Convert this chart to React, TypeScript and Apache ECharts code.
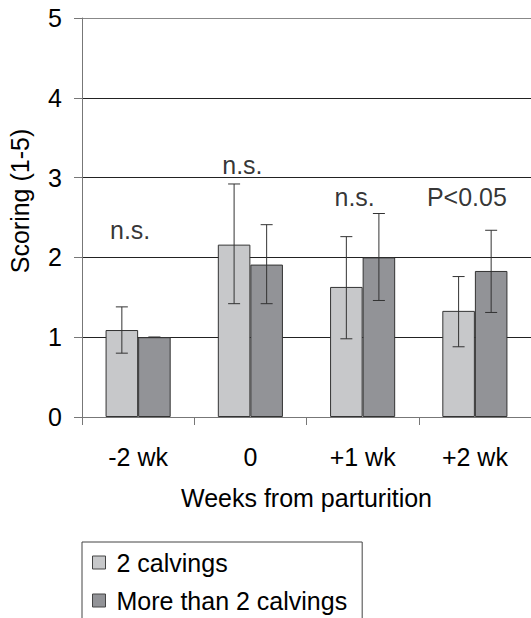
import React, { useEffect, useRef } from "react";
import * as echarts from "echarts";

const categories = ["-2 wk", "0", "+1 wk", "+2 wk"];
const seriesNames = ["2 calvings", "More than 2 calvings"];
const meanTwo = [1.09, 2.16, 1.63, 1.33];
const meanMore = [1.0, 1.91, 2.0, 1.83];
const lowTwo = [0.8, 1.42, 0.98, 0.88];
const highTwo = [1.38, 2.92, 2.26, 1.76];
const lowMore = [1.0, 1.42, 1.46, 1.31];
const highMore = [1.0, 2.41, 2.55, 2.34];
const annotTexts = ["n.s.", "n.s.", "n.s.", "P<0.05"];
const annotY = [2.34, 3.16, 2.76, 2.76];
const yAxisTitle = "Scoring (1-5)";
const xAxisTitle = "Weeks from parturition";

const FONT = "Liberation Sans, Arial, sans-serif";
const FS = 25;
const LIGHT = "#c7c8ca";
const DARK = "#929397";
const BAR_FRAC = 0.29;

function errorSeries(low: number[], high: number[], side: number) {
  return {
    type: "custom",
    silent: true,
    z: 5,
    data: categories.map((c, i) => [i, low[i], high[i]]),
    renderItem: (params: any, api: any) => {
      const idx = api.value(0);
      const band = api.size([1, 0])[0];
      const offset = side * band * BAR_FRAC / 2;
      const pLow = api.coord([idx, api.value(1)]);
      const pHigh = api.coord([idx, api.value(2)]);
      const x = pLow[0] + offset;
      const cap = 6;
      const style = { stroke: "#333", lineWidth: 1 };
      return {
        type: "group",
        children: [
          { type: "line", shape: { x1: x, y1: pLow[1], x2: x, y2: pHigh[1] }, style },
          { type: "line", shape: { x1: x - cap, y1: pHigh[1], x2: x + cap, y2: pHigh[1] }, style },
          { type: "line", shape: { x1: x - cap, y1: pLow[1], x2: x + cap, y2: pLow[1] }, style },
        ],
      };
    },
  };
}

export default function App() {
  const ref = useRef<HTMLDivElement>(null);
  useEffect(() => {
    if (!ref.current) return;
    const chart = echarts.init(ref.current, undefined, { renderer: "svg" });
    chart.setOption({
      animation: false,
      textStyle: { fontFamily: FONT, color: "#000" },
      grid: { left: 82, top: 18, bottom: 201, width: 451 },
      graphic: [
        {
          type: "text",
          x: 20,
          y: 201,
          rotation: Math.PI / 2,
          style: {
            text: yAxisTitle,
            fontSize: FS,
            fontFamily: FONT,
            fill: "#000",
            align: "center",
            verticalAlign: "middle",
          },
        },
      ],
      legend: {
        orient: "vertical",
        left: 82,
        top: 542,
        height: 150,
        padding: [8, 15, 20, 10],
        borderColor: "#444",
        borderWidth: 1,
        itemGap: 13,
        itemWidth: 13,
        itemHeight: 13,
        icon: "rect",
        data: seriesNames,
        itemStyle: { borderColor: "#444", borderWidth: 1 },
        textStyle: { fontSize: FS, fontFamily: FONT, color: "#000", padding: [0, 0, 0, 6] },
      },
      xAxis: {
        type: "category",
        data: categories,
        name: xAxisTitle,
        nameLocation: "middle",
        nameGap: 68,
        nameTextStyle: { fontSize: FS, fontFamily: FONT, color: "#000" },
        axisLine: { lineStyle: { color: "#777", width: 1 } },
        axisTick: { show: true, length: 8, lineStyle: { color: "#777" } },
        axisLabel: { fontSize: FS, fontFamily: FONT, color: "#000", margin: 27 },
      },
      yAxis: {
        type: "value",
        min: 0,
        max: 5,
        interval: 1,
        axisLine: { show: true, lineStyle: { color: "#777", width: 1 } },
        axisTick: { show: true, length: 8, lineStyle: { color: "#777" } },
        axisLabel: { fontSize: FS, fontFamily: FONT, color: "#000", margin: 20 },
        splitLine: {
          show: true,
          lineStyle: { color: ["#777", "#222", "#222", "#222", "#222", "#888"], width: 1 },
        },
      },
      series: [
        {
          name: seriesNames[0],
          type: "bar",
          data: meanTwo,
          barWidth: BAR_FRAC * 100 + "%",
          barGap: "0%",
          itemStyle: { color: LIGHT, borderColor: "#333", borderWidth: 1 },
        },
        {
          name: seriesNames[1],
          type: "bar",
          data: meanMore,
          barWidth: BAR_FRAC * 100 + "%",
          barGap: "0%",
          itemStyle: { color: DARK, borderColor: "#333", borderWidth: 1 },
        },
        errorSeries(lowTwo, highTwo, -1),
        errorSeries(lowMore, highMore, 1),
        {
          type: "scatter",
          silent: true,
          symbolSize: 0,
          data: categories.map((c, i) => [i, annotY[i]]),
          label: {
            show: true,
            position: "inside",
            offset: [-8, 0],
            fontSize: FS,
            fontFamily: FONT,
            color: "#000",
            formatter: (p: any) => annotTexts[p.dataIndex],
          },
        },
      ],
    });
    return () => chart.dispose();
  }, []);
  return <div ref={ref} style={{ width: 531, height: 618, position: "absolute", left: 0, top: 0 }} />;
}
